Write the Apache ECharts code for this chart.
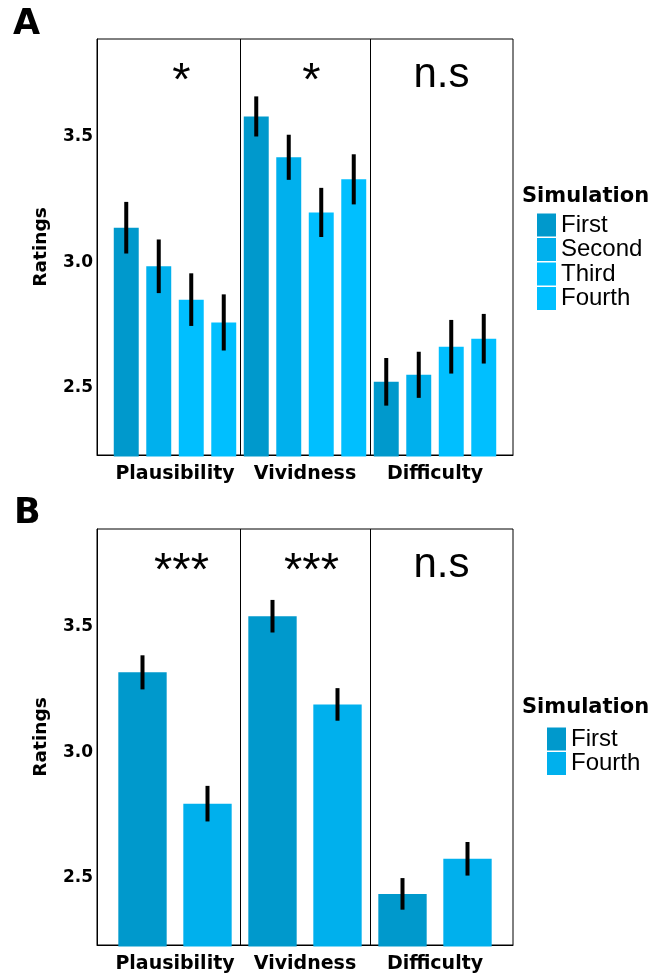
<!DOCTYPE html>
<html><head><meta charset="utf-8">
<script src="https://cdn.jsdelivr.net/npm/echarts@6/dist/echarts.min.js"></script>
<style>html,body{margin:0;padding:0;background:#fff}#c{width:664px;height:977px}</style>
</head><body><div id="c"></div>
<script>
// ---- data ----
const categories = ['Plausibility', 'Vividness', 'Difficulty'];
const simLevelsA = ['First', 'Second', 'Third', 'Fourth'];
const simLevelsB = ['First', 'Fourth'];
// Panel A means and error half-widths
const aFirst = [3.138, 3.582, 2.523];
const aSecond = [2.984, 3.419, 2.551];
const aThird = [2.851, 3.199, 2.663];
const aFourth = [2.760, 3.331, 2.695];
const aFirstErr = [0.103, 0.080, 0.095];
const aSecondErr = [0.107, 0.090, 0.092];
const aThirdErr = [0.105, 0.098, 0.107];
const aFourthErr = [0.112, 0.100, 0.099];
// Panel B means and error half-widths
const bFirst = [3.319, 3.543, 2.435];
const bFourth = [2.795, 3.191, 2.575];
const bFirstErr = [0.068, 0.065, 0.063];
const bFourthErr = [0.071, 0.065, 0.067];
// Axis ticks and annotations
const yTicks = [2.5, 3.0, 3.5];
const yMin = 2.231, yMax = 3.891;
const sigA = ['*', '*', 'n.s'];
const sigB = ['***', '***', 'n.s'];
const sigY = 3.75;
const panelDividers = [0.5, 1.5];

// ---- styles ----
const colorsA = ['#0099CC', '#00B0ED', '#00BFFF', '#00BFFF'];
const colorsB = ['#0099CC', '#00B0ED'];
const BOLD = 'DejaVu Sans';
const REG = 'Liberation Sans';

function barSeries(name, color, means, errs, gi, slot, nSlots, step, widthU) {
  return {
    type: 'custom', name: name, xAxisIndex: gi, yAxisIndex: gi,
    itemStyle: { color: color },
    encode: { x: 0, y: 1 },
    data: means.map((m, i) => [i, m, errs[i]]),
    renderItem: function (params, api) {
      const c = api.value(0), v = api.value(1), e = api.value(2);
      const xc = c + (slot - (nSlots - 1) / 2) * step;
      const p0 = api.coord([xc - widthU / 2, v]);
      const p1 = api.coord([xc + widthU / 2, yMin]);
      const eTop = api.coord([xc, v + e]);
      const eBot = api.coord([xc, v - e]);
      return {
        type: 'group', children: [
          { type: 'rect', shape: { x: p0[0], y: p0[1], width: p1[0] - p0[0], height: p1[1] - p0[1] + 1.5 }, style: { fill: color } },
          { type: 'line', shape: { x1: eTop[0], y1: eTop[1], x2: eBot[0], y2: eBot[1] }, style: { stroke: '#000', lineWidth: 4 } }
        ]
      };
    }
  };
}

function dividerSeries(gi) {
  return {
    type: 'custom', xAxisIndex: gi, yAxisIndex: gi, silent: true,
    encode: { x: 0, y: 1 },
    data: panelDividers.map(d => [d, yMax]),
    renderItem: function (params, api) {
      const x = api.value(0);
      const a = api.coord([x, yMax]), b = api.coord([x, yMin]);
      return { type: 'line', shape: { x1: Math.round(a[0]) + 0.5, y1: a[1], x2: Math.round(b[0]) + 0.5, y2: b[1] }, style: { stroke: '#000', lineWidth: 1 } };
    }
  };
}

function sigSeries(gi, labels) {
  return {
    type: 'custom', xAxisIndex: gi, yAxisIndex: gi, silent: true,
    encode: { x: 0, y: 1 },
    data: labels.map((l, i) => [i + 0.05, sigY]),
    renderItem: function (params, api) {
      const p = api.coord([api.value(0), api.value(1)]);
      const t = labels[params.dataIndex];
      const isStar = t.indexOf('*') >= 0;
      return {
        type: 'text', x: p[0], y: p[1] + (isStar ? 8 : 1),
        style: { text: t, fontFamily: REG, fontSize: isStar ? 47 : 42, fill: '#000', align: 'center', verticalAlign: 'middle' }
      };
    }
  };
}

function makeAxes(gi) {
  return {
    x: {
      type: 'value', gridIndex: gi, min: -0.6, max: 2.6,
      axisLine: { show: true, onZero: false, lineStyle: { color: '#000', width: 1 } },
      axisTick: { show: false }, splitLine: { show: false },
      axisLabel: {
        customValues: [0, 1, 2], margin: 10,
        formatter: v => categories[Math.round(v)],
        fontFamily: BOLD, fontWeight: 'bold', fontSize: 19, color: '#000'
      }
    },
    y: {
      type: 'value', gridIndex: gi, min: yMin, max: yMax,
      name: 'Ratings', nameLocation: 'middle', nameRotate: 90, nameGap: 46,
      nameTextStyle: { fontFamily: BOLD, fontWeight: 'bold', fontSize: 18.5, color: '#000' },
      axisLine: { show: true, onZero: false, lineStyle: { color: '#000', width: 1 } },
      axisTick: { show: false }, splitLine: { show: false },
      axisLabel: {
        customValues: yTicks, margin: 4,
        formatter: v => v.toFixed(1),
        fontFamily: BOLD, fontWeight: 'bold', fontSize: 17, color: '#000'
      }
    }
  };
}

const axA = makeAxes(0), axB = makeAxes(1);
const aMeans = [aFirst, aSecond, aThird, aFourth];
const aErrs = [aFirstErr, aSecondErr, aThirdErr, aFourthErr];
const bMeans = [bFirst, bFourth];
const bErrs = [bFirstErr, bFourthErr];

const series = [];
simLevelsA.forEach((n, k) => series.push(barSeries(n, colorsA[k], aMeans[k], aErrs[k], 0, k, 4, 0.25, 0.192)));
simLevelsB.forEach((n, k) => series.push(barSeries(n, colorsB[k], bMeans[k], bErrs[k], 1, k, 2, 0.5, 0.372)));
series.push(dividerSeries(0), dividerSeries(1), sigSeries(0, sigA), sigSeries(1, sigB));

const titleStyle = { fontFamily: BOLD, fontWeight: 'bold', color: '#000' };
const option = {
  animation: false,
  backgroundColor: '#fff',
  title: [
    { text: 'A', left: 13, top: 7, textStyle: Object.assign({ fontSize: 35 }, titleStyle), padding: 0 },
    { text: 'B', left: 14, top: 496, textStyle: Object.assign({ fontSize: 35 }, titleStyle), padding: 0 },
    { text: 'Simulation', left: 522, top: 186, textStyle: Object.assign({ fontSize: 21 }, titleStyle), padding: 0 },
    { text: 'Simulation', left: 522, top: 697, textStyle: Object.assign({ fontSize: 21 }, titleStyle), padding: 0 }
  ],
  grid: [
    { left: 97, top: 39, width: 416, height: 416, show: true, borderColor: '#000', borderWidth: 1, backgroundColor: '#fff' },
    { left: 97, top: 529, width: 416, height: 416, show: true, borderColor: '#000', borderWidth: 1, backgroundColor: '#fff' }
  ],
  xAxis: [axA.x, axB.x],
  yAxis: [axA.y, axB.y],
  legend: [
    {
      orient: 'vertical', left: 537, top: 213, padding: 0, itemWidth: 19, itemHeight: 23, itemGap: 0.5,
      icon: 'rect', selectedMode: false,
      data: simLevelsA.map((n, k) => ({ name: n, itemStyle: { color: colorsA[k] } })),
      textStyle: { fontFamily: REG, fontSize: 24, color: '#000', lineHeight: 23 }
    },
    {
      orient: 'vertical', left: 547, top: 727, padding: 0, itemWidth: 19, itemHeight: 23, itemGap: 0.5,
      icon: 'rect', selectedMode: false,
      data: simLevelsB.map((n, k) => ({ name: n, itemStyle: { color: colorsB[k] } })),
      textStyle: { fontFamily: REG, fontSize: 24, color: '#000', lineHeight: 23 }
    }
  ],
  series: series
};
const chart = echarts.init(document.getElementById('c'), null, { renderer: 'canvas' });
chart.setOption(option);
</script>
</body></html>
